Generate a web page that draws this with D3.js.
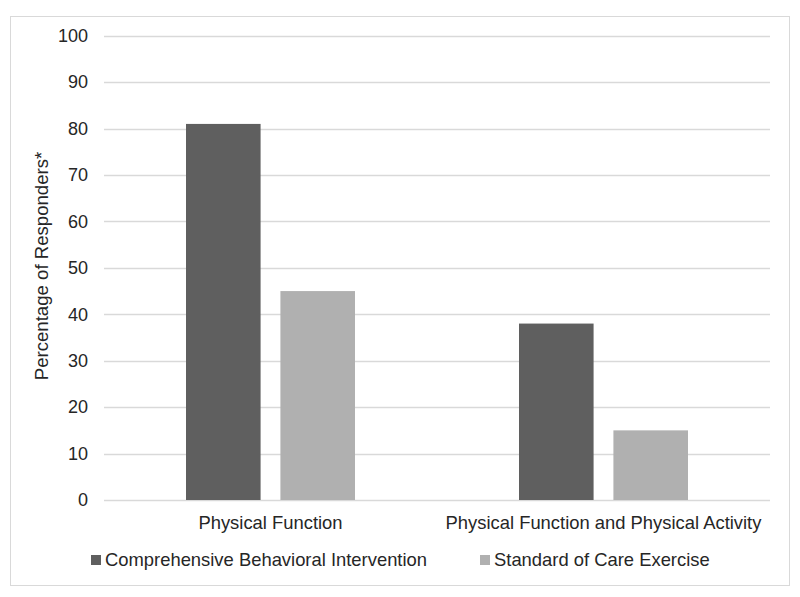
<!DOCTYPE html>
<html><head><meta charset="utf-8">
<script src="https://cdn.jsdelivr.net/npm/d3@7"></script>
<style>body{margin:0;background:#fff}svg{display:block}text{font-family:"Liberation Sans",Arial,sans-serif;fill:#262626}</style>
</head><body><svg id="c" width="800" height="597"></svg>
<script>
const categories = ["Physical Function", "Physical Function and Physical Activity"];
const seriesNames = ["Comprehensive Behavioral Intervention", "Standard of Care Exercise"];
const cbiValues = [81, 38];
const soceValues = [45, 15];
const yTicks = [0,10,20,30,40,50,60,70,80,90,100];
const colors = ["#5f5f5f", "#b0b0b0"];
const yTitle = "Percentage of Responders*";

const svg = d3.select("#c");
svg.append("rect").attr("x",10.5).attr("y",16.5).attr("width",779).attr("height",569)
  .attr("fill","#fff").attr("stroke","#d9d9d9");

const pLeft=104, pRight=770, pTop=35.7, pBottom=500;
const y = d3.scaleLinear().domain([0,100]).range([pBottom, pTop]);
const x0 = d3.scaleBand().domain(categories).range([pLeft,pRight]).paddingInner(0).paddingOuter(0);
const x1 = d3.scaleBand().domain(seriesNames).range([x0.bandwidth()/2-84.5, x0.bandwidth()/2+84.5]).paddingInner(0.21);

const grid = svg.append("g");
grid.selectAll("line").data(yTicks).join("line")
  .attr("x1",pLeft).attr("x2",pRight).attr("y1",d=>Math.round(y(d))+0.5).attr("y2",d=>Math.round(y(d))+0.5)
  .attr("stroke","#d9d9d9").attr("stroke-width",1.3);

const yAxis = d3.axisLeft(y).tickValues(yTicks).tickSize(0).tickPadding(16);
const ga = svg.append("g").attr("transform",`translate(${pLeft},0)`).call(yAxis);
ga.select(".domain").remove();
ga.selectAll("text").attr("font-size",18).style("font-family","'Liberation Sans',Arial,sans-serif").attr("fill","#262626");

const data = categories.map((c,i)=>({cat:c, vals:[cbiValues[i], soceValues[i]]}));
const groups = svg.append("g").selectAll("g").data(data).join("g")
  .attr("transform",d=>`translate(${x0(d.cat)},0)`);
groups.selectAll("rect").data(d=>d.vals.map((v,j)=>({s:seriesNames[j], v, j}))).join("rect")
  .attr("x",d=>x1(d.s)).attr("width",x1.bandwidth())
  .attr("y",d=>y(d.v)).attr("height",d=>y(0)-y(d.v)).attr("fill",d=>colors[d.j]);

svg.append("g").selectAll("text").data(categories).join("text")
  .attr("x",d=>x0(d)+x0.bandwidth()/2).attr("y",529).attr("text-anchor","middle")
  .attr("font-size",18.4).text(d=>d);

svg.append("text").attr("transform",`translate(48,266) rotate(-90)`)
  .attr("text-anchor","middle").attr("font-size",18.6).text(yTitle);

const legX = [91, 480];
const leg = svg.append("g").selectAll("g").data(seriesNames).join("g")
  .attr("transform",(d,i)=>`translate(${legX[i]},555)`);
leg.append("rect").attr("width",10).attr("height",10).attr("fill",(d,i)=>colors[i]);
leg.append("text").attr("x",14).attr("y",11).attr("font-size",18.4).text(d=>d);
</script></body></html>
